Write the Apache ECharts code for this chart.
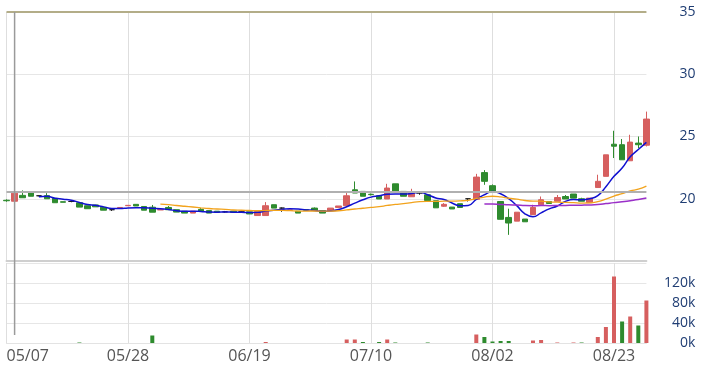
<!DOCTYPE html>
<html>
<head>
<meta charset="utf-8">
<script src="https://cdn.jsdelivr.net/npm/echarts@6/dist/echarts.min.js"></script>
<style>
html,body{margin:0;padding:0;background:#fff;}
#chart{width:710px;height:369px;}
</style>
</head>
<body>
<div id="chart"></div>
<script>
// ---- data ----
const dates = [
  '05/07','05/08','05/09','05/10','05/11','05/14','05/15','05/16','05/17','05/18','05/21','05/22','05/23','05/24','05/25',
  '05/28','05/29','05/30','05/31','06/01','06/04','06/05','06/06','06/07','06/08','06/11','06/12','06/13','06/14','06/15',
  '06/19','06/20','06/21','06/22','06/25','06/26','06/27','06/28','06/29','07/02','07/03','07/04','07/05','07/06','07/09',
  '07/10','07/11','07/12','07/16','07/17','07/18','07/19','07/20','07/23','07/24','07/25','07/26','07/30','07/31','08/01',
  '08/02','08/03','08/06','08/07','08/08','08/09','08/10','08/13','08/14','08/15','08/16','08/17','08/20','08/21','08/22',
  '08/23','08/24','08/27','08/28','08/29'
];
const opens = [
  19.88,19.80,20.27,20.52,20.24,20.25,20.03,19.76,19.78,19.68,19.44,19.50,19.32,19.12,19.28,
  19.44,19.55,19.38,19.32,19.10,19.30,19.12,19.00,18.85,19.15,19.05,19.00,18.95,19.00,18.95,
  18.95,18.65,18.65,19.52,19.25,19.08,19.00,19.12,19.25,19.05,19.04,19.30,19.44,20.72,20.59,
  20.36,20.24,19.98,21.20,20.59,20.16,20.46,20.32,19.84,19.40,19.33,19.60,20.00,19.95,22.10,
  21.05,19.78,18.50,18.20,18.37,18.72,19.52,19.78,19.80,20.18,20.38,20.00,19.68,20.90,21.80,
  24.38,24.34,23.05,24.47,24.30
];
const closes = [
  19.84,20.45,20.08,20.20,20.24,20.00,19.68,19.72,19.78,19.33,19.20,19.35,19.08,19.12,19.30,
  19.47,19.42,19.08,18.92,19.13,19.12,18.93,18.85,19.00,19.00,18.85,18.90,18.95,18.90,18.95,
  18.78,18.98,19.44,19.25,19.25,19.10,18.85,19.08,19.05,18.85,19.25,19.42,20.24,20.46,20.20,
  20.33,19.98,20.86,20.54,20.20,20.54,20.46,19.86,19.27,19.55,19.18,19.30,20.00,21.74,21.40,
  20.50,18.35,18.05,18.92,18.15,19.30,19.92,19.62,20.10,19.98,20.05,19.80,20.05,21.40,23.53,
  24.22,23.13,24.55,24.34,26.40
];
const lows = [
  19.76,19.80,20.08,20.20,20.20,20.00,19.68,19.72,19.72,19.33,19.20,19.35,19.08,19.02,19.28,
  19.44,19.42,19.08,18.92,19.10,19.12,18.93,18.85,18.85,19.00,18.85,18.90,18.88,18.90,18.92,
  18.78,18.65,18.65,19.25,18.95,19.08,18.85,19.08,19.05,18.85,19.04,19.30,19.44,20.46,20.20,
  20.26,19.98,19.98,20.54,20.20,20.16,20.32,19.86,19.27,19.35,19.18,19.30,19.78,19.95,21.12,
  20.50,18.35,17.10,18.20,18.15,18.72,19.52,19.62,19.80,19.98,20.05,19.80,19.68,20.90,21.80,
  23.27,23.13,23.05,24.07,24.20
];
const highs = [
  19.95,20.45,20.67,20.52,20.28,20.45,20.03,19.76,19.85,19.68,19.44,19.50,19.32,19.20,19.30,
  19.47,19.55,19.38,19.50,19.13,19.42,19.12,19.00,19.00,19.25,19.05,19.00,19.02,19.00,18.98,
  18.95,18.98,19.73,19.52,19.30,19.10,19.00,19.12,19.30,19.05,19.25,19.42,20.46,21.39,20.59,
  20.42,20.24,21.20,21.20,20.59,20.80,20.60,20.32,19.84,19.65,19.33,19.60,20.05,22.00,22.30,
  21.15,19.78,19.20,18.92,18.37,19.52,20.18,19.78,20.30,20.30,20.38,20.08,20.05,21.93,23.53,
  25.46,24.80,25.14,25.00,27.00
];
const volumes = [
  0,0,0,0,0,0,0,0,0,1000,0,0,0,0,0,
  0,0,0,15000,0,0,0,0,0,0,0,0,0,0,0,
  0,0,2000,0,0,0,0,0,0,0,0,0,7000,7000,2000,
  0,2000,7000,1000,0,0,0,1000,0,0,0,0,0,17000,12000,
  3000,4000,4000,0,0,5000,6000,0,1000,0,1000,1000,0,12000,32000,
  133000,43000,53000,35000,85000
];
const refPrice = 20.55;
const priceTicks = {min: 15, max: 35, interval: 5};
const volTicks = {min: 0, max: 160000, interval: 40000};
const maPeriods = [5, 20, 60];

const UP = '#d65f5f', DOWN = '#2e8b2e';

function movingAvg(n) {
  const out = [];
  for (let i = 0; i < closes.length; i++) {
    if (i < n - 1) { out.push('-'); continue; }
    let s = 0;
    for (let j = i - n + 1; j <= i; j++) s += closes[j];
    out.push(+(s / n).toFixed(3));
  }
  return out;
}

const kData = dates.map((d, i) => [opens[i], closes[i], lows[i], highs[i]]);
const volData = volumes.map((v, i) => {
  const prev = i === 0 ? opens[0] : closes[i - 1];
  return {value: v, itemStyle: {color: closes[i] >= prev ? UP : DOWN}};
});

const chart = echarts.init(document.getElementById('chart'), null, {renderer: 'canvas'});
const FONT = 'Open Sans';
const option = {
  animation: false,
  backgroundColor: '#fff',
  grid: [
    {left: 6.5, right: 63.6, top: 12, height: 249},
    {left: 6.5, right: 63.6, top: 263, height: 80}
  ],
  xAxis: [
    {type: 'category', gridIndex: 0, data: dates, boundaryGap: false,
     axisLabel: {show: false}, axisTick: {show: false},
     axisLine: {show: true, lineStyle: {color: '#cfcfcf', width: 2}},
     splitLine: {show: true, interval: 14, lineStyle: {color: '#dedede', width: 1}}},
    {type: 'category', gridIndex: 1, data: dates, boundaryGap: false,
     axisTick: {show: false},
     axisLine: {show: true, lineStyle: {color: '#e3e3e3', width: 1}},
     axisLabel: {interval: 14, color: '#555', fontSize: 16, fontFamily: FONT, margin: 5, alignMinLabel: 'left'},
     splitLine: {show: true, interval: 14, lineStyle: {color: '#dedede', width: 1}}}
  ],
  yAxis: [
    {type: 'value', gridIndex: 0, position: 'right', min: priceTicks.min, max: priceTicks.max, interval: priceTicks.interval,
     axisLine: {show: false}, axisTick: {show: false},
     axisLabel: {showMinLabel: false, color: '#1f3d73', fontSize: 14, fontFamily: FONT, align: 'right', margin: 49},
     splitLine: {show: true, lineStyle: {color: '#e6e6e6', width: 1}}},
    {type: 'value', gridIndex: 1, position: 'right', min: volTicks.min, max: volTicks.max, interval: volTicks.interval,
     axisLine: {show: false}, axisTick: {show: false},
     axisLabel: {showMaxLabel: false, color: '#1f3d73', fontSize: 14, fontFamily: FONT, align: 'right', margin: 49,
       formatter: v => (v / 1000) + 'k'},
     splitLine: {show: true, lineStyle: {color: '#e6e6e6', width: 1}}}
  ],
  series: [
    {type: 'candlestick', xAxisIndex: 0, yAxisIndex: 0, data: kData, barWidth: 6, clip: false,
     itemStyle: {color: UP, color0: DOWN, borderColor: UP, borderColor0: DOWN, borderColorDoji: '#222', borderWidth: 1},
     markLine: {silent: true, symbol: 'none', label: {show: false}, animation: false,
       data: [
         {yAxis: refPrice, lineStyle: {color: '#b0b0b0', width: 2, type: 'solid'}},
         {yAxis: priceTicks.max, lineStyle: {color: '#b3ad88', width: 2, type: 'solid'}}
       ]}},
    {type: 'line', name: 'MA' + maPeriods[0], xAxisIndex: 0, yAxisIndex: 0, data: movingAvg(maPeriods[0]), smooth: true,
     showSymbol: false, lineStyle: {color: '#1010d0', width: 1.5}},
    {type: 'line', name: 'MA' + maPeriods[1], xAxisIndex: 0, yAxisIndex: 0, data: movingAvg(maPeriods[1]), smooth: true,
     showSymbol: false, lineStyle: {color: '#f2a31c', width: 1.3}},
    {type: 'line', name: 'MA' + maPeriods[2], xAxisIndex: 0, yAxisIndex: 0, data: movingAvg(maPeriods[2]), smooth: true,
     showSymbol: false, lineStyle: {color: '#9a2fc8', width: 1.5}},
    {type: 'bar', xAxisIndex: 1, yAxisIndex: 1, data: volData, barWidth: 4}
  ]
};
chart.setOption(option);

// cursor line at the second trading day, spanning both panels
const cx = chart.convertToPixel({xAxisIndex: 0}, dates[1]);
const cyTop = chart.convertToPixel({yAxisIndex: 0}, priceTicks.max);
const cyBot = chart.convertToPixel({yAxisIndex: 1}, 16000);
chart.setOption({graphic: [{type: 'line', silent: true, z: 100,
  shape: {x1: cx, y1: cyTop, x2: cx, y2: cyBot},
  style: {stroke: '#9a9a9a', lineWidth: 1.5}}]});
</script>
</body>
</html>
